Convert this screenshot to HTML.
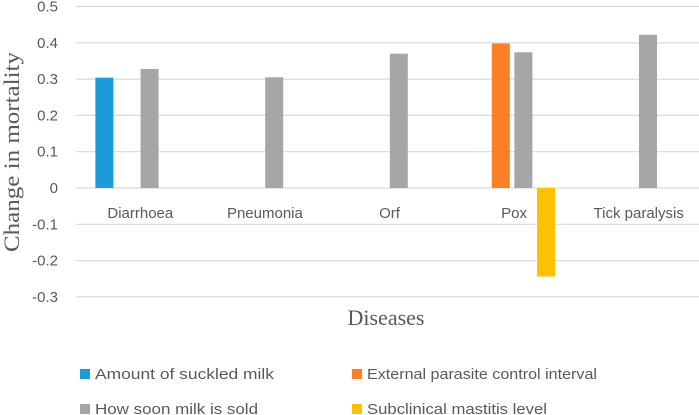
<!DOCTYPE html>
<html><head><meta charset="utf-8"><style>
html,body{margin:0;padding:0;background:#fff;}
svg{display:block;}
text{font-family:"Liberation Sans",sans-serif;}
</style></head><body>
<svg id="chart" width="699" height="415" viewBox="0 0 699 415">
<g id="grid"></g>
<g id="yticks"></g>
<g id="bars"></g>
<g id="cats"></g>
<text x="0" y="0" transform="translate(19,152) rotate(-90)" text-anchor="middle" font-size="22" fill="#595959" style="font-family:'Liberation Serif',serif" textLength="200" lengthAdjust="spacingAndGlyphs">Change in mortality</text>
<text x="386" y="325" text-anchor="middle" font-size="22" fill="#595959" style="font-family:'Liberation Serif',serif">Diseases</text>
<g id="legend"></g>
</svg>
<script>
const categories = ["Diarrhoea","Pneumonia","Orf","Pox","Tick paralysis"];
const seriesNames = ["Amount of suckled milk","External parasite control interval","How soon milk is sold","Subclinical mastitis level"];
const seriesColors = ["#1b9bd7","#fb7f27","#a6a6a6","#ffc000"];
const amountSuckled = [0.304, null, null, null, null];
const parasiteInterval = [null, null, null, 0.398, null];
const howSoonSold = [0.328, 0.305, 0.37, 0.374, 0.422];
const mastitisLevel = [null, null, null, -0.244, null];
const yTicks = [0.5,0.4,0.3,0.2,0.1,0,-0.1,-0.2,-0.3];
const yTickLabels = ["0.5","0.4","0.3","0.2","0.1","0","-0.1","-0.2","-0.3"];

const series = [amountSuckled, parasiteInterval, howSoonSold, mastitisLevel];
const NS = "http://www.w3.org/2000/svg";
const plotL = 76, plotR = 699, y0px = 188, pxPerUnit = 363;
const yScale = v => y0px - v * pxPerUnit;
const catW = (plotR - plotL) / categories.length;
const xCenter = i => plotL + catW * (i + 0.5);
const slot = 22.6, barW = 18;
function mk(tag, attrs, parent){const e=document.createElementNS(NS,tag);for(const k in attrs)e.setAttribute(k,attrs[k]);parent.appendChild(e);return e;}

const grid = document.getElementById('grid'), yt = document.getElementById('yticks');
yTicks.forEach((v,i)=>{
  const l = mk('line',{x1:plotL,x2:plotR,y1:yScale(v),y2:yScale(v),stroke:'#d9d9d9','stroke-width':1.2},grid);
  
  
  const t = mk('text',{x:58,y:yScale(v)+5,'text-anchor':'end','font-size':15,fill:'#595959'},yt);
  t.textContent = yTickLabels[i];
  
  
});

const bars = document.getElementById('bars');
series.forEach((vals,s)=>{
  vals.forEach((v,i)=>{
    if(v===null) return;
    const cx = xCenter(i) + (s - 1.5) * slot;
    const y = Math.min(yScale(v), y0px), h = Math.abs(yScale(v) - y0px);
    const r = mk('rect',{x:cx-barW/2,y:y,width:barW,height:h,fill:seriesColors[s]},bars);
    
    
  });
});

const cats = document.getElementById('cats');
categories.forEach((c,i)=>{
  const t = mk('text',{x:xCenter(i)+2,y:218,'text-anchor':'middle','font-size':15,fill:'#595959'},cats);
  t.textContent = c;
  
  
});

const legend = document.getElementById('legend');
const legPos = [[80,369],[352,369],[80,404],[352,404]];
const legLen = [179,230,163,180];
seriesNames.forEach((n,i)=>{
  const [x,y] = legPos[i];
  const g = mk('g',{},legend);
  
  
  mk('rect',{x:x,y:y,width:10,height:10,fill:seriesColors[i]},g);
  const t = mk('text',{x:x+15,y:y+10,'font-size':15,fill:'#595959',textLength:legLen[i],lengthAdjust:'spacingAndGlyphs'},g);
  t.textContent = n;
});
</script>
</body></html>
